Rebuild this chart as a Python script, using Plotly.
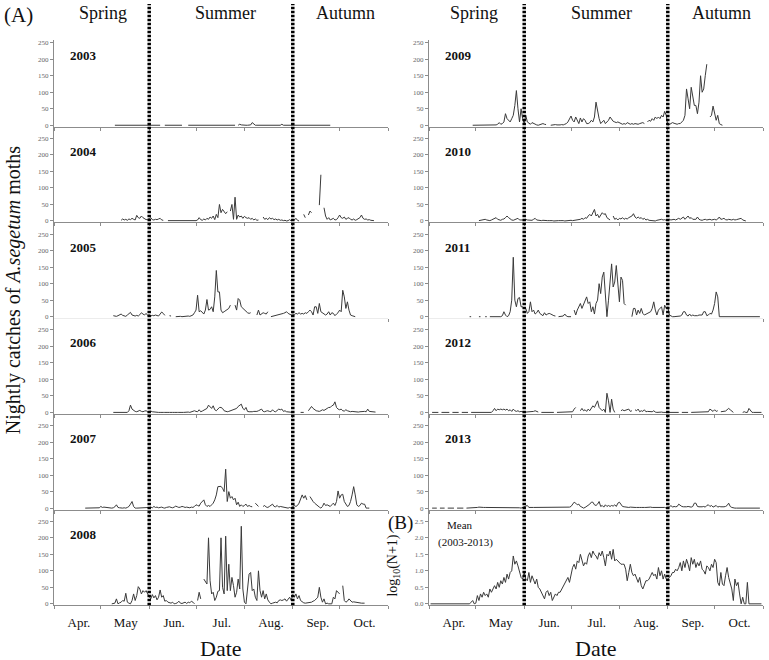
import plotly.graph_objects as go

N = None
# ---------------- data: nightly catches (day 0 = 1 April) ----------------
years_left = ["2003", "2004", "2005", "2006", "2007", "2008"]
years_right = ["2009", "2010", "2011", "2012", "2013"]

start_2003 = 39
catch_2003 = [0,0,0,0,0,1,0,0,0,0, 0,0,1,0,0,0,0,0,0,0, 0,1,0,0,0,0,0,0,0,0,
              N,N, 0,0,0,0,0,0,0,0,0,0,0,0, N,N,N,
              0,0,0,0,0,0,0,0,0,0, 0,0,0,0,0,0,0,0,0,0, 0,0,0,0,0,0,0,0,0,0, 0,
              N, 0,3,1,0,0,0,0,0,1,8, 4,0,0,0,0,0,0,0,0,0, 0,0,0,0,0,0,0,0,3,0,
              0,0,0,0,0,0,0,0,0,0, 0,0,0,0,0,0,0,0,0,0, 0,0,0,0,0,0,0,0,0,0]

start_2004 = 43
catch_2004 = [2,6,3,5,2,6,4,8,5,3, 17,10,8,15,10,6,4,5,8,10, 4,3,5,4,6,8,3,2, N,N,
              1,1,0,1,1,1,0,0,1,1, 1,0,1,1,0,1,1,2,1, 3,10,4,2,6,3,8,5,12,8,
              15,4,20,10,50,25,35,30,22,28, N, 30,50,5,72,5,18,12,15,8,14,
              10,8,10,5,8,3,6,2,3, N,N, 12,5,8,4,10,6,8,4,6,3, 5,2,3,1,2,0,1,4,0,5,
              3,8,2,0, N,N, 20,10, N, 18,30,25, N,N,N,N, 48,140, N,
              40,15,5,10,3,5,8,3,4,10, 18,10,8,12,5,8,10,5,3,6, 2,4,8,10,18,8,5,6,3,4,2,1,1]

start_2005 = 38
catch_2005 = [3,2,1,3,6,8,4,2,1,5, 10,13,5,3,2,4,2,6,12,8, 5,10,4,6,2,4,3,5,3,2, 8,14,10,4,
              N,N, 3,2, N,N, 0,1,2,1,0,1,2,3,2,1, 2,5,12,20,65,15,18,12,8,20,
              52,20,22,30,15,60,140,75,75,20, 12,15,18,20,25,35, N,N,
              35,20,55,50,30,25,20,15,12,10,12, N,N,N, 5,20,5,8,12,10,8,15, N,
              0,1,2,3,4,5,6,8,10,12, 15,10,8,5,8,6,10,8,12,8, 10,8,12,10,15,20,15,5,30,30,
              10,40,15,12,10,5,8,15,5,12, 10,3,8,12,20,15,80,60,25,45, 20,5,3,1,0]

start_2006 = 38
catch_2006 = [0,0,0,0,0,0,0,0,0,0, 5,22,10,5,3,2,4,6,3,2, 4,5,2,3,4,2,1,0,1,0,
              0,1,0,0,1,0,0,1,0,0, 1,0,0,1,0,0,1,0,1,0, 1,3,5,3,2,8,2,4,6,10,
              12,22,15,12,20,8,5,10,15,15, 12,5,3,2,3,5,6,8,10,12, 18,22,25,12,8,15,3,2,1,2,
              3,2,3,5,8,10,3,2,4,5, 3,2,8,3,2,5,10,8,10,3, 5,2,1,1,0,0, N,N,N,N, 0,1,0, N,N,
              5,10,18,12,8,5,4,3,5,8, 6,10,12,15,15,20,22,32,15,10, 8,10,5,4,8,5,3,2,3,2,
              1,2,1,2,3,2,3,2,10,3, 2,1,1,1]

start_2007 = 20
catch_2007 = [0,0,0,0,0,0,0,0,0,1, 5,2,3,2,1,0,0,0,1,4, 10,2,1,0,0,1,0,2,5,12,
              20,5,0,0,0,1,0,0,1,1, 0,2,3,1,5,2,3,1,2,3, 1,0,2,3,4,2,1,3,6,4,
              2,3,5,4,2,3,2,1,3,2, 5,10,8,6,15,20,25,10,5,8, 5,10,15,25,40,65,65,66,60,50,
              118,20,50,30,35,25,30,10,18,5, 10,5,8,12,5,8,5,4, N, 15,10,5, N,N,
              5,8,3,2,5,8,12,5,4,8, 3,5,4,3,2,1,0,2,0,5, 8,5,8,15,25,40,30,38,25, N,
              35,25,20,15,10,5,3,0,5,15, 8,10,8,5,10,15,8,20,52,30, 40,42,20,10,5,8,20,40,65,40,
              10,5,8,15,12,12,0,0,0]

start_2008 = 37
catch_2008 = [0,0,2,15,0,3,5,10,8,32, 5,2,0,10,30,10,25,52,45,30, 40,35,40,30,20,15,28,18,25,12,
              20,42,20,25,8,10,5,3,2,5, 0,1,3,8,2,1,3,5,1,5, 3,8,5,0, N, 10,35,15, N,
              75,65,60,200,70,30,35,10,20,38, 40,200,50,30,205,40,120,40,80,55,
              20,35,75,45,235,45,5,0,40,90, 95,40,45,20,10,100,40,20,40,15,
              30,12,5,0,2,3,5,3,10,12, 10,12,15,8,15,20,10,28,20,30, 15,25,10,5,3,2,3,2,3,5,
              8,10,15,20,50,20,5,15,0,2, 0,1,0,20,15,40,35,30, N,
              55,10,5,8,15,8,5,6,5,3, 4,3,2,2,2]

start_2009 = 28
catch_2009 = [0,0,0,0,0,0,0,0,0,0, 0,0,0,0,0, 1,3,8,3,5,10,35,20,15,10, 20,30,60,105,50,10,50,20,5,30,
              10,5,3,8,5,2,1,0,2,3, 5,3,2, N,N, 0,1,0,2,1,0,1,2,1,3, 5,10,18,28,15,10,25,15,5,22,
              10,20,15,5,5,8,15,10,25,70, 40,20,5,10,15,5,10,15,25,18, 12,10,8,10,8,5,3,5,3,8,
              5,3,5,3,5,4,3,5,6,8,5, N, 10,15,12,20,15,25,20,25,20,30, 25,42,30,0,2,5,8,6,5,3,
              5,5,10,15,30,110,80,50,115,80, 60,60,35,70,150,100,110,150,185, N,
              25,30,58,35,15,30,5,2,0]

start_2010 = 32
catch_2010 = [1,2,1,3,5,3,2,1,3,6, 8,10,5,3,2,5,6,10,15,10, 6,3,2,4,6,8,3,2,3,4, 5,3,2,3,2,5,8,3,2,3,
              1,2,1,2,1,1,2,1,0,1, 2,1,1,2,1,0,1,2,1,2, 1,2,1,2,
              3,5,8,5,10,8,15,20,15,25, 35,15,20,10,20,25,20,22,10,5, 3, N,
              15,5,8,3,8,6,10,5,8,6, 10,12,15,22,12,8,12,8,10,5, 8,3,5,2,1,2,1,0,2,3, 2,5,3,4,2,
              3,5,3,4,5,3,6,8,5,8, 12,5,10,15,8,10,5,4,5,12, 5,3,2,4,5,3,4,5,3,4,
              5,3,6,12,5,6,8,4,3,5, 4,3,5,3,4,5,8,8,3,1,0]

start_2011 = 26
catch_2011 = [0,0, N, 0, N,N, 0,0, N,N, 0,0, N, 0,0,0,0,0,0,0,0,
              3,15,5,0,3,15,50,180,50,30, 55,58,30,30,25,25,10,15,45,15, 20,8,12,20,10,5,3,12,5,8,
              10,8,5,3,2, N, 0,0,0,2,8,2,0,0,0, N,
              20,5,20,30,40,25,35,50,60,40, 45,15,30,8,40,50,100,70,120,135,
              80,0,50,100,160,90,105,155,100,45, 120,110,40,35, N,N,N,
              0,25,25,5,20,10,25,10,5,8, 10,12,15,25,45,20,5,20,25,30, 5,35,25,30,5,2,0,0,0,0,
              0,2,5,15,15,5,2,8,2,5, 3,2,3,5,4,5,15,15,3,5, 10,8,20,40,75,60,0,0,0,0,
              0,0,0,0,0,0,0,0,0,0, 0,0,0,0,0,0,0,0,0,0, 0,0,0]

start_2012 = 2
catch_2012 = [0,0,0,0,0, N, 0,0,0,0,0,0, N, 0,0,0,0,0, N, 0,0,0,0,0, N,
              0,0,0,0,0,0,0,0,0,0,0,0,0,0,
              5,12,5,10,8,10,8,10,7,10, 5,8,3,10,5,3,5,2,3,1, 1,1,1,1,1,1,3,5,2,1, N,
              0,0,0,0,0,0,0,0,0, N, 0,0,0,0,0,0,0,0,0,0,2, 10,15, N,N,
              5,12,5,8,3,10,5,15,20,15, 25,35,15,10,5,10,0,58,35,0, 40,10,0, N,N,N,
              5,8,5,6,8,10,3,5, N, 8, 5,10,2,5,3,8,2,3,2,3, 2,5,1,0,1,0,1,0,0,0,
              0,0,0,0,0,0,0,0, N, 0,0,0,0,0, N, 0,0,0,0,0,0,0,0,0,0,0,
              2,10,5,3,8,3,5, N, 2,3,5,4,8,12,8,5,0, N,N,N,N,N,
              0,2,0,0,12,5,0, 0,0,0,0,0,0]

start_2013 = 2
catch_2013 = [0,0,0,0, N, 0,0,0,0, N, 0,0,0,0,0, N, 0,0,0,0,0, N, 0,0,0,0,
              2,2,2,2,3,2,2,2,2,2, 2,3,2,2,2,2,2,3,2,2, 2,2,3,2,2,2,3,2,2,3,
              1,0,2,3,5,8,2,3,2,2, 2,3,2,2,3,2,2,3,2,2, 3,2,2,3,2,2,3,2,3,2,3,2,3,
              5,10,18,15,10,12,5,3,0,2, 5,8,12,18,18,10,8,12,20,5, 8,3,10,5,8,5,8,6,10,5,
              15,18,10,5,4,3,3,2,3,2, 3,2,2,3,2,2,3,2,2,3, 2,3,2,2,3,2,2,3,2,2,2,
              0,3,3,8,3,5,4,5,12,8, 5,4,3,4,5,4,3,5,15,15, 5,4,3,4,5,3,8,10,5,8,
              3,5,8,3,5,4,3,4,5,8, 15,5,2,0,0,0,0,0,0,0, 0,0,0,0,0,0,0,0,0,0,0]

# (B) mean log10(N+1), 2003-2013
start_mean = 1
mean_log = [0,0,0,0,0,0,0,0,0,0, 0,0,0,0,0,0,0,0,0,0, 0,0,0,0,0,0,
            0.05,0.1,0.0,0.02,0.25,0.1,0.3,0.2,0.35,0.25,
            0.3,0.2,0.45,0.35,0.45,0.55,0.45,0.65,0.5,0.7,0.6,
            0.8,0.65,0.9,0.75,0.95,1.0,1.45,1.2,1.3,1.15,
            1.0,0.8,0.75,0.95,0.75,0.7,0.95,0.65,0.85,0.7,0.6,
            0.75,0.5,0.45,0.35,0.25,0.15,0.35,0.4,0.25,0.35,
            0.1,0.2,0.3,0.25,0.35,0.35,0.45,0.5,0.6,0.75,0.8,
            0.65,0.9,1.1,1.2,1.05,1.3,1.25,1.5,1.3,1.15,
            1.25,1.2,1.45,1.55,1.4,1.6,1.5,1.45,1.35,1.55,1.45,
            1.6,1.4,1.15,1.5,1.45,1.6,1.35,1.65,1.3,1.35,
            1.3,1.25,1.2,1.2,1.2,1.05,0.7,0.95,1.2,0.95,0.85,
            0.9,0.75,0.65,0.8,0.55,0.45,0.6,0.7,0.7,0.75,0.85,
            0.95,0.85,0.9,0.75,1.1,0.85,1.0,0.75,0.9,0.75,
            0.75,0.8,0.85,0.95,0.95,1.05,1.0,1.1,1.25,1.0,1.3,
            1.1,1.35,1.2,1.0,1.4,1.2,1.35,1.1,1.25,1.15,
            1.3,1.05,1.0,0.9,1.15,1.1,1.0,1.2,1.1,1.35,1.25,
            0.65,0.55,0.95,0.6,0.55,0.85,1.1,0.8,0.6,0.45,
            0.1,0.75,0.55,0.65,0.3,0.0,0.2,0.0,0.0,0.65,
            0.0, 0,0,0,0,0,0,0,0]

month_labels = ["Apr.", "May", "Jun.", "Jul.", "Aug.", "Sep.", "Oct."]
month_mid = [16, 46, 77, 107.5, 139, 169, 199]
month_edges = [0, 30, 61, 91, 122, 153, 183, 214]
season_edges = [61, 153]          # 1 June, 1 September
count_ticks = [0, 50, 100, 150, 200, 250]
log_ticks = [0, 0.5, 1.0, 1.5, 2.0, 2.5]
log_ticktext = ["0.0", "0.5", "1.0", "1.5", "2.0", "2.5"]

left_series = [(start_2003, catch_2003), (start_2004, catch_2004), (start_2005, catch_2005),
               (start_2006, catch_2006), (start_2007, catch_2007), (start_2008, catch_2008)]
right_series = [(start_2009, catch_2009), (start_2010, catch_2010), (start_2011, catch_2011),
                (start_2012, catch_2012), (start_2013, catch_2013), (start_mean, mean_log)]

# ---------------- layout geometry (pixels) ----------------
W, H = 769, 660
COLS = [(54, 388), (429, 763)]
PITCH = 96.3
SPAN = 83.0
FONT = "Liberation Serif, Times New Roman, serif"
LINE = "#3a3a3a"
AXC = "#8c8c8c"


def fx(p):
    return p / W


def fy(p):
    return 1 - p / H


fig = go.Figure()
layout = {}
for c, series_list in enumerate([left_series, right_series]):
    L, R = COLS[c]
    for r, (start, vals) in enumerate(series_list):
        n = c * 6 + r + 1
        xs = "" if n == 1 else str(n)
        is_log = (c == 1 and r == 5)
        full = 2.5 if is_log else 250.0
        p0 = 125 + PITCH * r
        bottom = p0 + 1.5
        top = (p0 - PITCH + 1.5) if r > 0 else (p0 - SPAN - 3)
        k = SPAN / full
        yr = [-(bottom - p0) / k, (p0 - top) / k]
        fig.add_trace(go.Scatter(
            x=list(range(start, start + len(vals))), y=vals, mode="lines",
            line=dict(color=LINE, width=1), connectgaps=False,
            xaxis="x" + xs, yaxis="y" + xs, showlegend=False, hoverinfo="skip"))
        layout["xaxis" + xs] = dict(
            domain=[fx(L), fx(R)], range=[0, 214], anchor="y" + xs,
            showline=True, linecolor=AXC, linewidth=1, showgrid=False, zeroline=False,
            tickmode="array", tickvals=month_mid, ticktext=month_labels, ticks="",
            showticklabels=(r == 5), ticklabelstandoff=5,
            tickfont=dict(family=FONT, size=13, color="#111"),
            minor=dict(tickmode="array", tickvals=month_edges, ticks="outside",
                       ticklen=3, tickcolor=AXC, showgrid=False),
        )
        layout["yaxis" + xs] = dict(
            domain=[fy(bottom), fy(top)], range=yr, anchor="x" + xs,
            showline=True, linecolor=AXC, linewidth=1, showgrid=False, zeroline=False,
            tickmode="array",
            tickvals=log_ticks if is_log else count_ticks,
            ticktext=log_ticktext if is_log else [str(v) for v in count_ticks],
            ticks="outside", ticklen=3, tickcolor=AXC,
            tickfont=dict(family=FONT, size=7, color="#666"),
        )

annotations = []
for c, names in enumerate([years_left, years_right]):
    L, R = COLS[c]
    for r, name in enumerate(names):
        p0 = 125 + PITCH * r
        annotations.append(dict(text="<b>" + name + "</b>", x=fx(L + 14), y=fy(p0 - 70),
                                xref="paper", yref="paper", xanchor="left", yanchor="middle",
                                showarrow=False, font=dict(family=FONT, size=13, color="#111")))

seasons = [("Spring", 103), ("Summer", 225), ("Autumn", 345),
           ("Spring", 474), ("Summer", 601), ("Autumn", 721)]
for txt, cx in seasons:
    annotations.append(dict(text=txt, x=fx(cx), y=fy(12), xref="paper", yref="paper",
                            xanchor="center", yanchor="middle", showarrow=False,
                            font=dict(family=FONT, size=18, color="#111")))

extra = [
    ("(A)", 18, 14, 21, 0),
    ("(B)", 400, 525, 19, 0),
    ("Mean", 460, 527, 11, 0),
    ("(2003-2013)", 465, 545, 11, 0),
    ("Nightly catches of <i>A.segetum</i> moths", 13, 291, 20, -90),
    ("log<sub>10</sub>(N+1)", 394, 568, 14, -90),
]
for txt, cx, cy, size, ang in extra:
    annotations.append(dict(text=txt, x=fx(cx), y=fy(cy), xref="paper", yref="paper",
                            xanchor="center", yanchor="middle", showarrow=False,
                            textangle=ang, font=dict(family=FONT, size=size, color="#111")))
for cx in [221, 596]:
    annotations.append(dict(text="Date", x=fx(cx), y=fy(651), xref="paper", yref="paper",
                            xanchor="center", yanchor="middle", showarrow=False,
                            font=dict(family=FONT, size=22, color="#111")))

shapes = []
for xref in ["x", "x7"]:
    for d in season_edges:
        shapes.append(dict(type="line", xref=xref, yref="paper", x0=d, x1=d,
                           y0=fy(608), y1=fy(3),
                           line=dict(color="black", width=3.5, dash="2.5px,1.5px")))

fig.update_layout(
    width=W, height=H, margin=dict(l=0, r=0, t=0, b=0),
    paper_bgcolor="white", plot_bgcolor="white",
    annotations=annotations, shapes=shapes, **layout)

fig.write_html("out.html", config={"displayModeBar": False},
               post_script="document.body.style.margin='0px';")
